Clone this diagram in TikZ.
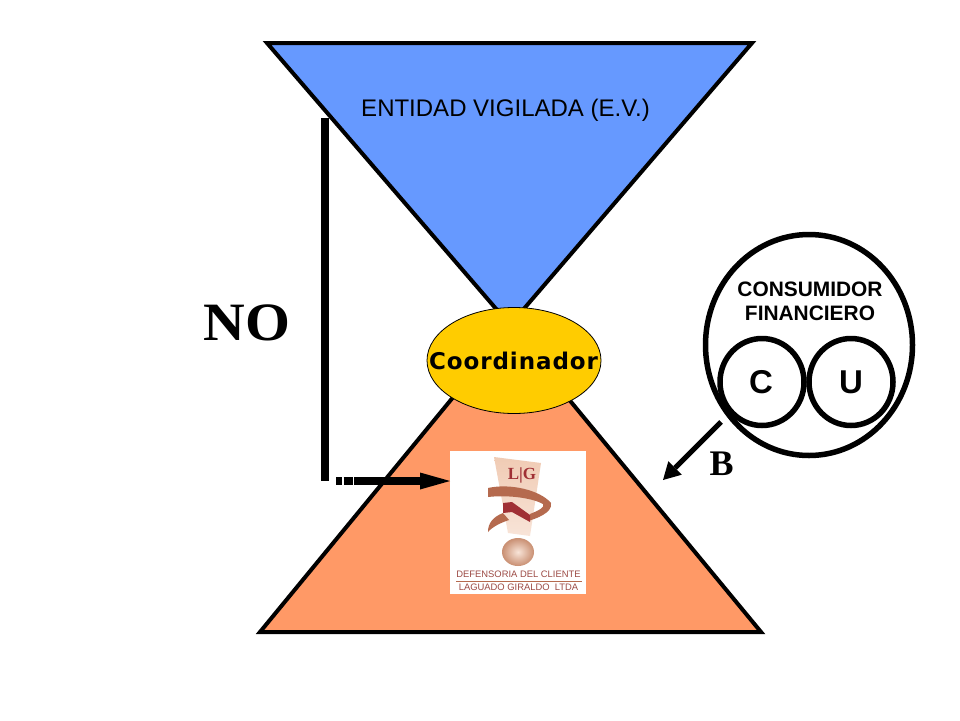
\documentclass[tikz,border=0pt]{standalone}
\usepackage{fontspec}
\setmainfont{Liberation Sans}
\newfontfamily\serifb{Liberation Serif}
\newfontfamily\dejab{DejaVu Sans}[LetterSpace=4]
\usetikzlibrary{arrows.meta,shapes.geometric}
\definecolor{blueT}{HTML}{6699FF}
\definecolor{orangeT}{HTML}{FF9966}
\definecolor{yellowE}{HTML}{FFCC00}
\definecolor{logoRed}{HTML}{A03035}
\definecolor{logoText}{HTML}{9C4A44}
\definecolor{logoSkin}{HTML}{F0CBB4}
\definecolor{logoPale}{HTML}{F8E4D8}
\definecolor{logoBrown}{HTML}{B56A4E}
\definecolor{logoBall}{HTML}{C98F72}
\tikzset{
  x=1pt,y=-1pt,
  tri/.style={draw=black,line width=4pt,line join=miter},
  txt/.style={inner sep=0pt,font=\fontsize{#1}{#1}\selectfont},
  logotxt/.style={inner sep=0pt,text=logoText,font=\fontsize{9.4}{9.4}\selectfont},
  bar/.style={line width=8pt,draw=black},
  ringbox/.style={ellipse,draw=black,line width=5.5pt,inner sep=0pt},
  boldtxt/.style={inner sep=0pt,font=\bfseries\fontsize{#1}{#1}\selectfont},
}
\begin{document}
\begin{tikzpicture}
\useasboundingbox (0,0) rectangle (960,720);
\fill[white] (0,0) rectangle (960,720);
% triangles
\draw[tri,fill=blueT] (267,43) -- (752,43) -- (510,325) -- cycle;
\draw[tri,fill=orangeT] (260,632) -- (761,632) -- (510,328) -- cycle;
\node[ellipse,draw=black,line width=0.8pt,fill=yellowE,minimum width=174pt,minimum height=106pt,inner sep=0pt] (coord) at (514,360.5) {};
\node[font=\dejab\bfseries\fontsize{23}{23}\selectfont,inner sep=0pt] (coordt) at (513.5,361) {Coordinador};
\node[txt=24] (ev) at (505.5,110.5) {ENTIDAD VIGILADA (E.V.)};
% logo
\fill[white] (450,451) rectangle (586,594);
\shade[top color=logoSkin,bottom color=logoPale] (494,457) -- (541,463) -- (530,536) -- (508,533) -- cycle;
\fill[logoBrown] (488,488) .. controls (510,483) and (540,490) .. (551,503) .. controls (553,513) and (535,519) .. (528,521) -- (530,514) .. controls (540,510) and (545,507) .. (543,504) .. controls (530,497) and (505,495) .. (488,497) -- cycle;
\fill[logoBrown] (503,513) .. controls (493,517) and (488,523) .. (488,532) .. controls (493,526) and (503,522) .. (509,520) -- cycle;
\fill[logoRed] (503,503) -- (512,502) -- (530,515) -- (530,522) -- (512,512) -- (503,513) -- cycle;
\shade[inner color=logoPale,outer color=logoBall] (518,552) ellipse (16 and 14);
\node[inner sep=0pt,text=logoRed,font=\serifb\bfseries\fontsize{17}{17}\selectfont] (lg) at (522,475) {L|G};
\node[logotxt] (d1) at (518.5,574.5) {DEFENSORIA DEL CLIENTE};
\node[logotxt] (d2) at (518.5,587) {LAGUADO GIRALDO\ \ LTDA};
\draw[draw=logoBrown,line width=0.7pt] (456,581) -- (582,581);
% NO connector
\coordinate (a0) at (325,118);
\coordinate (a1) at (325,481);
\coordinate (a2) at (336,481);
\coordinate (a3) at (354,481);
\coordinate (a4) at (450,481);
\draw[bar] (a0) -- (a1);
\draw[bar,dash pattern=on 5.5pt off 2pt on 9pt off 2pt] (a2) -- (a3);
\draw[bar,-{Triangle[length=30pt,width=17pt,line width=0pt]}] (a3) -- (a4);
\node[font=\serifb\bfseries\fontsize{54}{54}\selectfont,inner sep=0pt,xscale=1.07] (no) at (247,323) {NO};
% consumer
\node[ringbox,minimum width=207pt,minimum height=221pt] (cf) at (809,345) {};
\node[ringbox,minimum width=84pt,minimum height=87pt] (c) at (762,382) {};
\node[ringbox,minimum width=84pt,minimum height=87pt] (u) at (851,382) {};
\node[boldtxt=33] (ct) at (761,382.5) {C};
\node[boldtxt=33] (ut) at (851,382.5) {U};
\node[font=\bfseries\fontsize{20.9}{24}\selectfont,align=center,inner sep=0pt] (cft) at (810,301) {CONSUMIDOR\\FINANCIERO};
\coordinate (b0) at (721,422);
\coordinate (b1) at (663,480);
\draw[draw=black,line width=5pt,-{Triangle[length=17pt,width=19pt,line width=0pt]}] (b0) -- (b1);
\node[font=\serifb\bfseries\fontsize{36}{36}\selectfont,inner sep=0pt] (b) at (721.5,464) {B};
\end{tikzpicture}
\end{document}
